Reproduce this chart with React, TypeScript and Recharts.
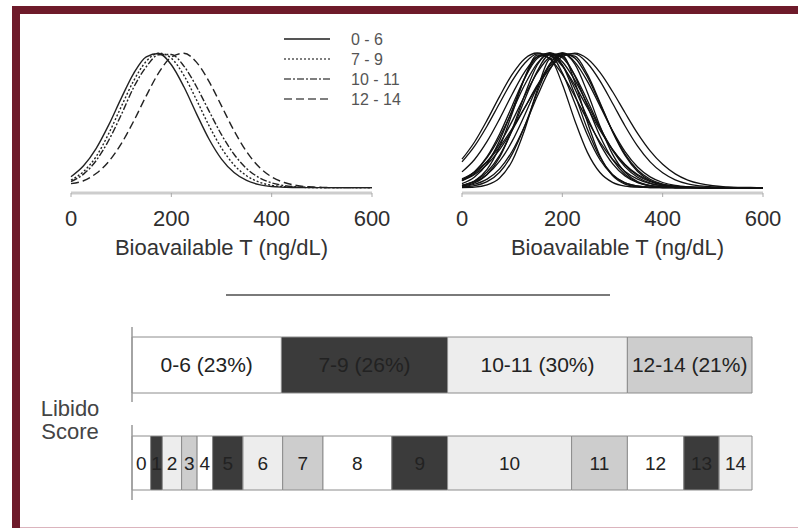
import React from "react";
import {
  Bar,
  BarChart,
  LabelList,
  Legend,
  Line,
  LineChart,
  XAxis,
  YAxis,
} from "recharts";

// bioavailable T (ng/dL) sample points shared by every curve
const T_VALUES = [
  0, 25, 50, 75, 100, 125, 150, 175, 200, 225, 250, 275, 300, 325, 350, 375, 400, 425, 450, 475,
  500, 525, 550, 575, 600,
];
const T_TICKS = [0, 200, 400, 600];

// left panel: distribution per libido-score group (peak scaled to 1)
const SCORE_0_6 = [0.081, 0.162, 0.29, 0.464, 0.663, 0.849, 0.972, 0.996, 0.913, 0.749, 0.55, 0.361, 0.212, 0.112, 0.053, 0.022, 0.008, 0.003, 0, 0, 0, 0, 0, 0, 0];
const SCORE_7_9 = [0.055, 0.12, 0.23, 0.4, 0.6, 0.794, 0.938, 0.999, 0.961, 0.834, 0.653, 0.461, 0.294, 0.169, 0.088, 0.041, 0.017, 0.007, 0.003, 0.001, 0, 0, 0, 0, 0];
const SCORE_10_11 = [0.045, 0.1, 0.2, 0.35, 0.54, 0.745, 0.898, 0.987, 0.989, 0.903, 0.751, 0.57, 0.393, 0.248, 0.142, 0.074, 0.035, 0.015, 0.006, 0.002, 0, 0, 0, 0, 0];
const SCORE_12_14 = [0.03, 0.051, 0.105, 0.193, 0.325, 0.494, 0.682, 0.854, 0.969, 0.998, 0.932, 0.789, 0.607, 0.423, 0.267, 0.153, 0.08, 0.038, 0.016, 0.006, 0.002, 0, 0, 0, 0];

const GROUP_LEGEND = ["0 - 6", "7 - 9", "10 - 11", "12 - 14"];
const GROUP_DASH = ["", "2 2", "7 2 2 2", "8 4"];

// right panel: individual curves
const P01 = [0.211, 0.339, 0.501, 0.678, 0.841, 0.958, 1, 0.958, 0.841, 0.678, 0.501, 0.339, 0.211, 0.12, 0.063, 0.03, 0.013, 0.005, 0.002, 0, 0, 0, 0, 0, 0];
const P02 = [0.191, 0.308, 0.458, 0.627, 0.793, 0.924, 0.994, 0.986, 0.902, 0.761, 0.593, 0.426, 0.282, 0.172, 0.097, 0.051, 0.024, 0.011, 0.004, 0.001, 0, 0, 0, 0, 0];
const P03 = [0.029, 0.078, 0.179, 0.349, 0.577, 0.812, 0.971, 0.987, 0.852, 0.626, 0.391, 0.207, 0.094, 0.036, 0.012, 0.003, 0.001, 0, 0, 0, 0, 0, 0, 0, 0];
const P04 = [0.052, 0.117, 0.23, 0.398, 0.607, 0.813, 0.96, 0.997, 0.912, 0.734, 0.521, 0.325, 0.178, 0.086, 0.037, 0.014, 0.005, 0.001, 0, 0, 0, 0, 0, 0, 0];
const P05 = [0.011, 0.035, 0.098, 0.226, 0.434, 0.69, 0.911, 1, 0.911, 0.69, 0.434, 0.226, 0.098, 0.035, 0.011, 0.003, 0.001, 0, 0, 0, 0, 0, 0, 0, 0];
const P06 = [0.056, 0.118, 0.223, 0.375, 0.566, 0.764, 0.923, 0.998, 0.965, 0.835, 0.647, 0.448, 0.278, 0.154, 0.077, 0.034, 0.014, 0.005, 0.002, 0, 0, 0, 0, 0, 0];
const P07 = [0.001, 0.004, 0.02, 0.071, 0.198, 0.43, 0.726, 0.956, 0.98, 0.783, 0.487, 0.236, 0.089, 0.026, 0.006, 0.001, 0, 0, 0, 0, 0, 0, 0, 0, 0];
const P08 = [0.015, 0.049, 0.135, 0.303, 0.551, 0.817, 0.984, 0.963, 0.768, 0.497, 0.262, 0.112, 0.039, 0.011, 0.003, 0.001, 0, 0, 0, 0, 0, 0, 0, 0, 0];
const P09 = [0.051, 0.105, 0.193, 0.325, 0.494, 0.682, 0.854, 0.969, 0.998, 0.932, 0.789, 0.607, 0.423, 0.267, 0.153, 0.08, 0.038, 0.016, 0.006, 0.002, 0, 0, 0, 0, 0];
const P10 = [0.017, 0.044, 0.098, 0.196, 0.345, 0.539, 0.747, 0.917, 0.998, 0.962, 0.823, 0.624, 0.419, 0.249, 0.131, 0.062, 0.026, 0.009, 0.003, 0.001, 0, 0, 0, 0, 0];
const P11 = [0.051, 0.097, 0.172, 0.282, 0.426, 0.593, 0.761, 0.902, 0.986, 0.994, 0.924, 0.793, 0.627, 0.458, 0.308, 0.191, 0.11, 0.058, 0.028, 0.013, 0.005, 0.002, 0, 0, 0];
const P12 = [0.065, 0.116, 0.194, 0.302, 0.439, 0.594, 0.75, 0.885, 0.973, 0.999, 0.957, 0.856, 0.714, 0.556, 0.403, 0.273, 0.173, 0.102, 0.056, 0.029, 0.014, 0.006, 0.002, 0.001, 0];
const P13 = [0.017, 0.048, 0.116, 0.239, 0.425, 0.653, 0.865, 0.988, 0.974, 0.828, 0.607, 0.383, 0.209, 0.098, 0.04, 0.014, 0.004, 0.001, 0, 0, 0, 0, 0, 0, 0];
const P14 = [0.004, 0.014, 0.044, 0.114, 0.249, 0.458, 0.707, 0.917, 1, 0.917, 0.707, 0.458, 0.249, 0.114, 0.044, 0.014, 0.004, 0.001, 0, 0, 0, 0, 0, 0, 0];
const P15 = [0.117, 0.209, 0.343, 0.511, 0.694, 0.86, 0.971, 0.998, 0.935, 0.798, 0.621, 0.441, 0.285, 0.168, 0.09, 0.044, 0.02, 0.008, 0.003, 0.001, 0, 0, 0, 0, 0];
const P16 = [0.008, 0.025, 0.063, 0.139, 0.27, 0.458, 0.678, 0.876, 0.989, 0.976, 0.841, 0.633, 0.416, 0.239, 0.12, 0.053, 0.02, 0.007, 0.002, 0, 0, 0, 0, 0, 0];

// libido score bars (share of patients, %)
const GROUP_NAMES = ["0-6 (23%)", "7-9 (26%)", "10-11 (30%)", "12-14 (21%)"];
const GROUP_SHARES = [24.1, 26.8, 29.0, 20.1];
const SCORE_NAMES = ["0", "1", "2", "3", "4", "5", "6", "7", "8", "9", "10", "11", "12", "13", "14"];
const SCORE_SHARES = [3.0, 1.9, 3.1, 2.5, 2.5, 4.9, 6.4, 6.5, 11.1, 9.0, 20.0, 9.0, 9.1, 5.7, 5.3];

const SHADES = ["#ffffff", "#3b3b3b", "#ededed", "#cdcdcd"];
const FONT = "'Liberation Sans', Arial, Helvetica, sans-serif";
const MAROON = "#6e1a2a";

const groupSeries = [SCORE_0_6, SCORE_7_9, SCORE_10_11, SCORE_12_14];
const patientSeries = [P01, P02, P03, P04, P05, P06, P07, P08, P09, P10, P11, P12, P13, P14, P15, P16];

const groupData = T_VALUES.map((t, i) => {
  const row: Record<string, number> = { t };
  groupSeries.forEach((s, k) => (row["g" + k] = s[i]));
  return row;
});

const patientData = T_VALUES.map((t, i) => {
  const row: Record<string, number> = { t };
  patientSeries.forEach((s, k) => (row["p" + k] = s[i]));
  return row;
});

const groupBarRow: Record<string, number | string> = { row: "groups" };
GROUP_SHARES.forEach((v, i) => (groupBarRow["s" + i] = v));
const scoreBarRow: Record<string, number | string> = { row: "scores" };
SCORE_SHARES.forEach((v, i) => (scoreBarRow["s" + i] = v));

function GroupLegend() {
  return (
    <svg width={130} height={80}>
      {GROUP_LEGEND.map((name, i) => {
        const y = 9 + i * 20;
        return (
          <g key={name}>
            <line
              x1={0}
              x2={46}
              y1={y}
              y2={y}
              stroke="#555"
              strokeWidth={i === 0 ? 2 : 1.6}
              strokeDasharray={GROUP_DASH[i] || undefined}
            />
            <text x={67} y={y} dy="0.35em" fontSize={16} fill="#555" fontFamily={FONT}>
              {name}
            </text>
          </g>
        );
      })}
    </svg>
  );
}

const axisProps = {
  dataKey: "t",
  type: "number" as const,
  domain: [0, 600],
  ticks: T_TICKS,
  height: 65,
  tickSize: 4,
  tickMargin: 13,
  axisLine: { stroke: "#cdcdcd", strokeWidth: 3 },
  tickLine: { stroke: "#aaa" },
  tick: { fontSize: 22, fill: "#2e2e2e", fontFamily: FONT },
};

export default function App() {
  return (
    <div
      style={{
        position: "absolute",
        left: 0,
        top: 0,
        width: 798,
        height: 529,
        background: "#fff",
        fontFamily: FONT,
        overflow: "hidden",
      }}
    >
      {/* left panel */}
      <div style={{ position: "absolute", left: 0, top: 0 }}>
        <LineChart width={420} height={270} data={groupData} margin={{ top: 53, right: 48, bottom: 12, left: 71 }}>
          <XAxis
            {...axisProps}
            label={{ value: "Bioavailable T (ng/dL)", position: "insideBottom", offset: 3, fontSize: 22, fill: "#333" }}
          />
          <YAxis hide domain={[-0.04, 1]} />
          <Legend
            layout="vertical"
            align="center"
            verticalAlign="middle"
            content={() => <GroupLegend />}
            wrapperStyle={{ left: 284, top: 30, width: 130, height: 80 }}
          />
          {groupSeries.map((_, k) => (
            <Line
              key={k}
              dataKey={"g" + k}
              type="monotone"
              stroke="#222"
              strokeWidth={1.4}
              strokeDasharray={GROUP_DASH[k] || undefined}
              dot={false}
              isAnimationActive={false}
            />
          ))}
        </LineChart>
      </div>

      {/* right panel */}
      <div style={{ position: "absolute", left: 400, top: 0 }}>
        <LineChart width={398} height={270} data={patientData} margin={{ top: 53, right: 35, bottom: 12, left: 62 }}>
          <XAxis
            {...axisProps}
            label={{ value: "Bioavailable T (ng/dL)", position: "insideBottom", offset: 3, dx: 5, fontSize: 22, fill: "#333" }}
          />
          <YAxis hide domain={[-0.04, 1]} />
          {patientSeries.map((_, k) => (
            <Line
              key={k}
              dataKey={"p" + k}
              type="monotone"
              stroke="#111"
              strokeWidth={1.3}
              dot={false}
              isAnimationActive={false}
            />
          ))}
        </LineChart>
      </div>

      {/* separator */}
      <div style={{ position: "absolute", left: 226, top: 294, width: 384, height: 1.5, background: "#7a7a7a" }} />

      {/* grouped libido score bar */}
      <div style={{ position: "absolute", left: 0, top: 300 }}>
        <BarChart
          width={798}
          height={120}
          layout="vertical"
          data={[groupBarRow]}
          margin={{ top: 27, right: 46, bottom: 18, left: 131 }}
        >
          <XAxis type="number" domain={[0, 100]} hide />
          <YAxis type="category" dataKey="row" width={1} tick={false} tickLine={false} axisLine={{ stroke: "#999", strokeWidth: 1.5 }} />
          {GROUP_SHARES.map((_, i) => (
            <Bar
              key={i}
              dataKey={"s" + i}
              stackId="a"
              barSize={56}
              fill={SHADES[i % 4]}
              stroke="#8c8c8c"
              strokeWidth={1}
              isAnimationActive={false}
            >
              <LabelList
                position="center"
                formatter={() => GROUP_NAMES[i]}
                fill="#222"
                fontSize={21}
                fontFamily={FONT}
              />
            </Bar>
          ))}
        </BarChart>
      </div>

      {/* individual libido score bar */}
      <div style={{ position: "absolute", left: 0, top: 410 }}>
        <BarChart
          width={798}
          height={110}
          layout="vertical"
          data={[scoreBarRow]}
          margin={{ top: 15, right: 46, bottom: 20, left: 131 }}
        >
          <XAxis type="number" domain={[0, 100]} hide />
          <YAxis type="category" dataKey="row" width={1} tick={false} tickLine={false} axisLine={{ stroke: "#999", strokeWidth: 1.5 }} />
          {SCORE_SHARES.map((_, i) => (
            <Bar
              key={i}
              dataKey={"s" + i}
              stackId="a"
              barSize={54}
              fill={SHADES[i % 4]}
              stroke="#8c8c8c"
              strokeWidth={1}
              isAnimationActive={false}
            >
              <LabelList
                position="center"
                formatter={() => SCORE_NAMES[i]}
                fill="#222"
                fontSize={19}
                fontFamily={FONT}
              />
            </Bar>
          ))}
        </BarChart>
      </div>

      {/* axis title for the bars */}
      <div
        style={{
          position: "absolute",
          left: 30,
          top: 397,
          width: 80,
          textAlign: "center",
          fontSize: 22,
          lineHeight: "23px",
          color: "#444",
        }}
      >
        Libido
        <br />
        Score
      </div>

      {/* frame */}
      <div style={{ position: "absolute", left: 12, top: 6, width: 786, height: 8, background: MAROON }} />
      <div style={{ position: "absolute", left: 12, top: 6, width: 8, height: 522, background: MAROON }} />
      <div style={{ position: "absolute", left: 20, top: 527, width: 778, height: 1, background: "#dbb4bd" }} />
    </div>
  );
}
